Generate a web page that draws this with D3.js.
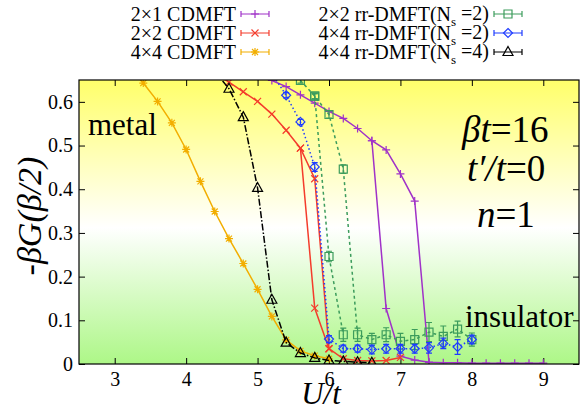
<!DOCTYPE html>
<html>
<head>
<meta charset="utf-8">
<script src="https://cdn.jsdelivr.net/npm/d3@7"></script>
<style>
body{margin:0;background:#fff;}
</style>
</head>
<body>
<div id="chart"></div>
<script>
// 2x1 CDMFT, two branches (hysteresis)
var U21a=[5.0,5.2,5.4,5.6,5.8,6.0,6.2,6.4,6.6,6.8,7.0,7.2,7.4,7.6,7.8,8.0,8.2,8.4,8.6,8.8,9.0];
var G21a=[0.662,0.649,0.635,0.616,0.597,0.578,0.562,0.539,0.511,0.490,0.435,0.373,0.004,0.003,0.003,0.002,0.002,0.002,0.002,0.002,0.002];
var U21b=[6.6,6.8,7.0,7.2,7.4];
var G21b=[0.511,0.127,0.018,0.009,0.004];
// 2x2 CDMFT
var U22a=[4.4,4.6,4.8,5.0,5.2,5.4,5.6,5.8,6.0,6.2,6.4,6.6,6.8,7.0];
var G22a=[0.665,0.645,0.623,0.601,0.572,0.535,0.494,0.424,0.035,0.012,0.008,0.007,0.008,0.015];
var U22b=[5.6,5.8,6.0];
var G22b=[0.494,0.128,0.035];
// 4x4 CDMFT
var U44=[3.2,3.4,3.6,3.8,4.0,4.2,4.4,4.6,4.8,5.0,5.2,5.4,5.6,5.8,6.0];
var G44=[0.68,0.643,0.601,0.552,0.491,0.418,0.349,0.287,0.230,0.171,0.109,0.055,0.030,0.019,0.012];
// 2x2 rr-DMFT(Ns=2)
var Urr22a=[5.6,5.8,6.0,6.2,6.4,6.6,6.8,7.0,7.2,7.4,7.6,7.8,8.0];
var Grr22a=[0.649,0.613,0.571,0.446,0.067,0.056,0.067,0.052,0.056,0.073,0.063,0.080,0.056];
var Err22a=[0.006,0.006,0.008,0.010,0.015,0.014,0.016,0.018,0.023,0.022,0.024,0.018,0.015];
var Urr22b=[5.8,6.0,6.2];
var Grr22b=[0.613,0.246,0.067];
var Err22b=[0.006,0.012,0.015];
// 4x4 rr-DMFT(Ns=2)
var Urr42=[5.2,5.4,5.6,5.8,6.0,6.2,6.4,6.6,6.8,7.0,7.2,7.4,7.6,7.8,8.0];
var Grr42=[0.665,0.615,0.554,0.451,0.057,0.035,0.035,0.033,0.035,0.035,0.035,0.037,0.047,0.039,0.056];
var Err42=[0.005,0.006,0.006,0.010,0.008,0.008,0.008,0.010,0.010,0.010,0.010,0.012,0.012,0.017,0.010];
// 4x4 rr-DMFT(Ns=4)
var Urr44=[4.4,4.6,4.8,5.0,5.2,5.4,5.6,5.8,6.0,6.2,6.4,6.6];
var Grr44=[0.67,0.630,0.565,0.403,0.147,0.049,0.025,0.014,0.008,0.006,0.004,0.003];

var xTicks=[3,4,5,6,7,8,9];
var yTicks=[0,0.1,0.2,0.3,0.4,0.5,0.6];

// =====================
var serif="Liberation Serif";
var margin={top:80,right:5,bottom:48,left:79},
    width=584-margin.left-margin.right,
    height=412-margin.top-margin.bottom;

var svg=d3.select("#chart")
    .append("svg")
    .attr("width",584)
    .attr("height",412)
    .style("font-family",serif);

var defs=svg.append("defs");
var grad=defs.append("linearGradient")
    .attr("id","bg")
    .attr("x1",0).attr("y1",0).attr("x2",0).attr("y2",1);
grad.append("stop").attr("offset","0%").attr("stop-color","#ffff6a");
grad.append("stop").attr("offset","52%").attr("stop-color","#ffffff");
grad.append("stop").attr("offset","100%").attr("stop-color","#adf787");

defs.append("clipPath").attr("id","clip")
    .append("rect").attr("width",width).attr("height",height);

var g=svg.append("g")
    .attr("transform","translate("+margin.left+","+margin.top+")");

var x=d3.scaleLinear().domain([2.5,9.5]).range([0,width]);
var y=d3.scaleLinear().domain([0,0.65]).range([height,0]);

g.append("rect")
    .attr("width",width)
    .attr("height",height)
    .attr("fill","url(#bg)");

// ticks (inward, mirrored)
var tk=6;
function fixAxis(a){
    a.attr("font-family",null).attr("font-size",20);
    a.select(".domain").remove();
}
g.append("g")
    .attr("transform","translate(0,"+height+")")
    .call(d3.axisBottom(x).tickValues(xTicks).tickSize(-tk).tickPadding(8).tickFormat(d3.format("d")))
    .call(fixAxis);
g.append("g")
    .call(d3.axisTop(x).tickValues(xTicks).tickSize(-tk).tickFormat(""))
    .call(fixAxis);
g.append("g")
    .call(d3.axisLeft(y).tickValues(yTicks).tickSize(-tk).tickPadding(6).tickFormat(d=>d===0?"0":d3.format(".1f")(d)))
    .call(fixAxis);
g.append("g")
    .attr("transform","translate("+width+",0)")
    .call(d3.axisRight(y).tickValues(yTicks).tickSize(-tk).tickFormat(""))
    .call(fixAxis);

var plot=g.append("g").attr("clip-path","url(#clip)");

var markers={
    plus:"M-4,0H4M0,-4V4",
    cross:"M-3.5,-3.5L3.5,3.5M-3.5,3.5L3.5,-3.5",
    star:"M-4,0H4M0,-4V4M-3,-3L3,3M-3,3L3,-3",
    square:"M-4,-4H4V4H-4Z",
    diamond:"M0,-4.5L4.5,0L0,4.5L-4.5,0Z",
    triangle:"M0,-5.5L5,3.5H-5Z"
};

var series=[
    {name:"2×1 CDMFT",col:"#a032c8",dash:null,mk:"plus",sets:[[U21a,G21a],[U21b,G21b]]},
    {name:"2×2 CDMFT",col:"#f43c2c",dash:null,mk:"cross",sets:[[U22a,G22a],[U22b,G22b]]},
    {name:"4×4 CDMFT",col:"#f2ae00",dash:null,mk:"star",sets:[[U44,G44]]},
    {name:"2×2 rr-DMFT(N",col:"#3c9c5c",dash:"3,3",mk:"square",sets:[[Urr22a,Grr22a,Err22a],[Urr22b,Grr22b,Err22b]]},
    {name:"4×4 rr-DMFT(N",col:"#1f3cff",dash:"1.5,2.5",mk:"diamond",sets:[[Urr42,Grr42,Err42]]},
    {name:"4×4 rr-DMFT(N",col:"#000000",dash:"7,2,1.5,2",mk:"triangle",sets:[[Urr44,Grr44]]}
];

var line=d3.line().x(d=>x(d[0])).y(d=>y(d[1]));

series.forEach(function(s){
    s.sets.forEach(function(set){
        var pts=set[0].map((u,i)=>[u,set[1][i],set[2]?set[2][i]:0]);
        plot.append("path")
            .datum(pts)
            .attr("fill","none")
            .attr("stroke",s.col)
            .attr("stroke-width",1.5)
            .attr("stroke-dasharray",s.dash)
            .attr("d",line);
        // error bars
        pts.filter(d=>d[2]>0).forEach(function(d){
            var px=x(d[0]);
            plot.append("path")
                .attr("fill","none")
                .attr("stroke",s.col)
                .attr("stroke-width",1.2)
                .attr("d","M"+px+","+y(d[1]-d[2])+"V"+y(d[1]+d[2])
                    +"M"+(px-3)+","+y(d[1]-d[2])+"H"+(px+3)
                    +"M"+(px-3)+","+y(d[1]+d[2])+"H"+(px+3));
        });
        plot.selectAll(null)
            .data(pts)
            .enter()
            .append("path")
            .attr("transform",d=>"translate("+x(d[0])+","+y(d[1])+")")
            .attr("d",markers[s.mk])
            .attr("fill","none")
            .attr("stroke",s.col)
            .attr("stroke-width",1.2);
    });
});

g.append("rect")
    .attr("width",width)
    .attr("height",height)
    .attr("fill","none")
    .attr("stroke","#000")
    .attr("stroke-width",1.2);

// legend
var legRows=[14,33,52];
series.forEach(function(s,i){
    var col=Math.floor(i/3), row=i%3;
    var tx=col===0?236:489, ly=legRows[row];
    var t=svg.append("text")
        .attr("x",tx)
        .attr("y",ly)
        .attr("dy","0.33em")
        .attr("text-anchor","end")
        .attr("font-size",20)
        .text(s.name);
    if(col===1){
        t.append("tspan").attr("font-size",13).attr("dy","0.45em").text("s");
        t.append("tspan").attr("dy","-0.3em").text(" ="+(i===5?"4":"2")+")");
    }
    var lx0=tx+5, lx1=tx+33, lm=(lx0+lx1)/2;
    svg.append("path")
        .attr("fill","none")
        .attr("stroke",s.col)
        .attr("stroke-width",1.2)
        .attr("d","M"+lx0+","+ly+"H"+lx1+"M"+lx0+","+(ly-3)+"V"+(ly+3)+"M"+lx1+","+(ly-3)+"V"+(ly+3));
    svg.append("path")
        .attr("transform","translate("+lm+","+ly+")")
        .attr("d",markers[s.mk])
        .attr("fill","none")
        .attr("stroke",s.col)
        .attr("stroke-width",1.2);
});

// labels inside plot
g.append("text").attr("x",9).attr("y",55).attr("font-size",31).text("metal");
g.append("text").attr("x",386).attr("y",247).attr("font-size",31).text("insulator");

var ann=g.append("g").attr("font-size",37);
var a1=ann.append("text").attr("x",383).attr("y",62);
a1.append("tspan").attr("font-style","italic").text("βt");
a1.append("tspan").text("=16");
var a2=ann.append("text").attr("x",388).attr("y",101);
a2.append("tspan").attr("font-style","italic").text("t′/t");
a2.append("tspan").text("=0");
var a3=ann.append("text").attr("x",398).attr("y",147);
a3.append("tspan").attr("font-style","italic").text("n");
a3.append("tspan").text("=1");

// axis titles
svg.append("text")
    .attr("x",321)
    .attr("y",404)
    .attr("text-anchor","middle")
    .attr("font-size",31)
    .attr("font-style","italic")
    .text("U/t");

svg.append("g")
    .attr("transform","translate(41,"+(margin.top+height/2-6)+")")
    .append("text")
    .attr("text-anchor","middle")
    .attr("transform","rotate(-90)")
    .attr("font-size",34)
    .attr("font-style","italic")
    .text("-βG(β/2)");
</script>
</body>
</html>
